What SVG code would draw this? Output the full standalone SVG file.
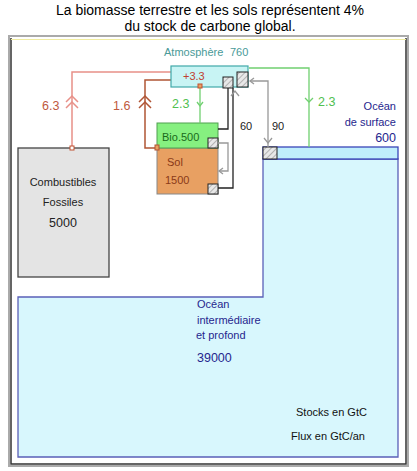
<svg xmlns="http://www.w3.org/2000/svg" width="417" height="471" viewBox="0 0 417 471">
<defs>
<pattern id="hatch" width="4" height="4" patternUnits="userSpaceOnUse" patternTransform="rotate(45)">
<rect width="4" height="4" fill="#e8e8e8"/>
<line x1="0" y1="0" x2="0" y2="4" stroke="#a0a0a0" stroke-width="1.5"/>
</pattern>
<style>
text{font-family:"Liberation Sans",Arial,sans-serif}
.title{font-size:14px;fill:#000;text-anchor:middle}
.lbl{font-size:11px}
.big{font-size:12.5px}
.hatch{fill:url(#hatch);stroke:#222;stroke-width:1}
.blue{fill:#26268e}
.red{stroke:#e89088;fill:none;stroke-width:1.5}
.brown{stroke:#b05535;fill:none;stroke-width:1.5}
.green{stroke:#70d070;fill:none;stroke-width:1.3}
.gray{stroke:#999;fill:none;stroke-width:1.3}
.black{stroke:#222;fill:none;stroke-width:1.3}
</style>
</defs>
<rect width="417" height="471" fill="#fff"/>
<text class="title" x="210" y="15">La biomasse terrestre et les sols représentent 4%</text>
<text class="title" x="210" y="31">du stock de carbone global.</text>
<g id="frame">
<rect x="9" y="36" width="399" height="430" fill="#fff" stroke="#aaa" stroke-width="2"/>
<path d="M11 38 V464 H406 V38" fill="none" stroke="#333" stroke-width="1.5"/>
<line x1="11" y1="39.5" x2="406" y2="39.5" stroke="#f0eca0" stroke-width="1"/>
</g>
<g id="deep-ocean">
<path d="M263 159 V297 H18 V457 H398 V159 Z" fill="#d8f7fd" stroke="#5a60b8" stroke-width="1.3"/>
<text class="lbl blue" x="197" y="308">Océan</text>
<text class="lbl blue" x="197" y="324">intermédiaire</text>
<text class="lbl blue" x="196" y="339">et profond</text>
<text class="big blue" x="197" y="362">39000</text>
</g>
<g id="surface-ocean">
<rect x="263" y="147" width="135" height="12" fill="#bfeefc" stroke="#3a46b8" stroke-width="1.3"/>
<rect class="hatch" x="263" y="147" width="14" height="12"/>
<text class="lbl blue" x="396" y="110" text-anchor="end">Océan</text>
<text class="lbl blue" x="396" y="126" text-anchor="end">de surface</text>
<text class="big blue" x="396" y="142" text-anchor="end">600</text>
</g>
<g id="fossils">
<rect x="18" y="148" width="91" height="129" fill="#e4e4e4" stroke="#444" stroke-width="1.3"/>
<text class="lbl" x="63" y="186" text-anchor="middle" fill="#222">Combustibles</text>
<text class="lbl" x="63" y="206" text-anchor="middle" fill="#222">Fossiles</text>
<text class="big" x="63" y="227" text-anchor="middle" fill="#222">5000</text>
</g>
<g id="soil">
<rect x="157" y="148" width="61" height="46" fill="#e8a062" stroke="#888" stroke-width="1"/>
<text class="lbl" x="167" y="166" fill="#8a3a18">Sol</text>
<text class="lbl" x="165" y="184" fill="#8a3a18">1500</text>
<rect class="hatch" x="208" y="184" width="10" height="10"/>
</g>
<g id="biomass">
<rect x="157" y="123" width="61" height="25" fill="#86f080" stroke="#50a050" stroke-width="1"/>
<text class="lbl" x="162" y="141" fill="#1a6a1a">Bio.500</text>
<rect class="hatch" x="208" y="138" width="10" height="10"/>
</g>
<g id="connectors">
<path class="red" d="M72 148 V72 H171"/>
<path class="red" d="M66 102 L72 96 L78 102 M66 108 L72 102 L78 108"/>
<rect x="70" y="146" width="4" height="4" fill="#fff" stroke="#c05030" stroke-width="1"/>
<path class="brown" d="M157 148 H145 V80 H171"/>
<path class="brown" d="M139 102 L145 96 L151 102 M139 108 L145 102 L151 108"/>
<rect x="155" y="145" width="4" height="5" fill="#e8a062" stroke="#b05535" stroke-width="1"/>
<path class="green" d="M200 87 V123"/>
<path class="green" d="M197 102 L200 106 L203 102"/>
<path class="green" d="M249 68 H309 V147"/>
<path class="green" d="M305 98 L309 102 L313 98"/>
<path class="black" d="M228 88 V129 H218"/>
<path class="black" d="M233 88 V188 H218"/>
<path class="gray" d="M231 96 L235 91 L239 96"/>
<path class="gray" d="M218 143 H228 V171 H219"/>
<path class="gray" d="M223 168 L219 171 L223 174"/>
<path class="gray" d="M268 147 V81 H250"/>
<path class="gray" d="M254 78 L250 81 L254 84"/>
<path class="gray" d="M264 138 L268 143 L272 138"/>
</g>
<g id="atmosphere">
<rect x="171" y="66" width="77" height="21" fill="#c8f4f4" stroke="#40a8a8" stroke-width="1.2"/>
<text class="lbl" x="164" y="56" fill="#4a9a98">Atmosphère</text>
<text class="lbl" x="230" y="56" fill="#4a9a98">760</text>
<text class="lbl" x="183" y="80" fill="#c04030">+3.3</text>
<rect x="198" y="84" width="4" height="4" fill="#e8a062" stroke="#c05030" stroke-width="1"/>
<rect class="hatch" x="223" y="77" width="10" height="11"/>
<rect class="hatch" x="237" y="72" width="11" height="15"/>
</g>
<g id="labels">
<text class="big" x="42" y="110" fill="#c05a40">6.3</text>
<text class="big" x="113" y="110" fill="#c05a40">1.6</text>
<text class="big" x="172" y="108" fill="#50c050">2.3</text>
<text class="big" x="318" y="106" fill="#50c050">2.3</text>
<text class="lbl" x="240" y="130" fill="#222">60</text>
<text class="lbl" x="272" y="130" fill="#222">90</text>
<text class="lbl" x="296" y="416" fill="#111">Stocks en GtC</text>
<text class="lbl" x="291" y="440" fill="#111">Flux en GtC/an</text>
</g>
</svg>
